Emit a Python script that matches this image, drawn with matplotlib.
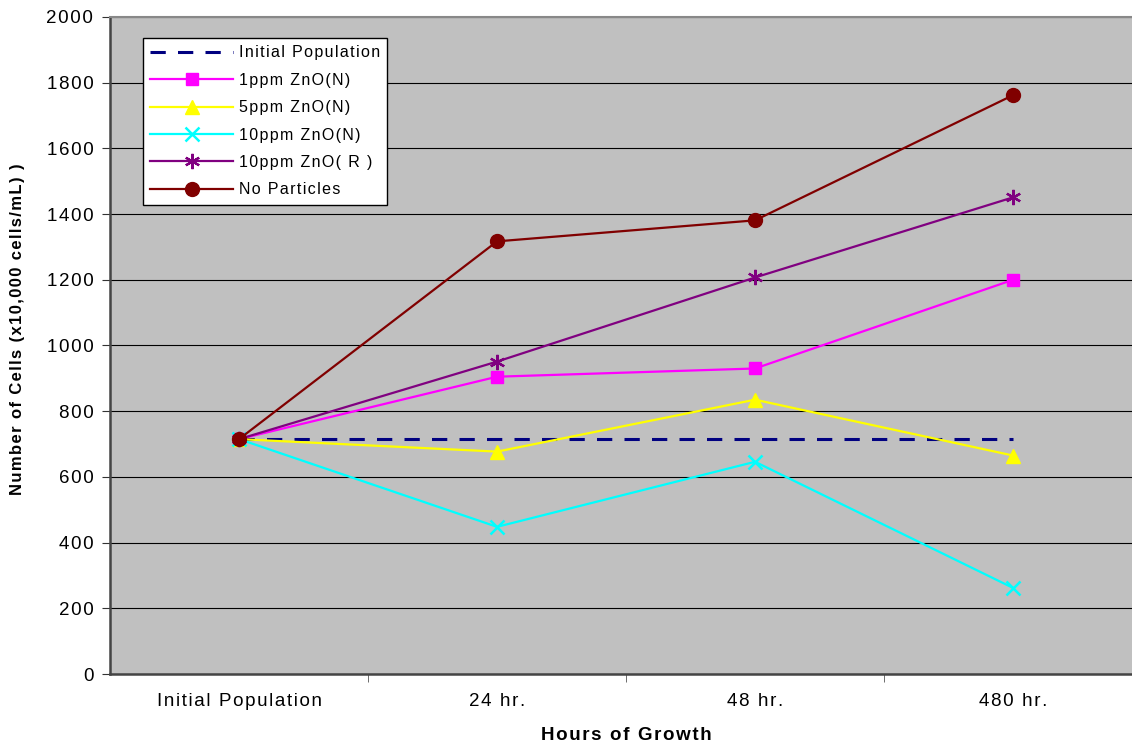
import matplotlib.pyplot as plt
import numpy as np

plt.rcParams['font.family'] = ['Liberation Sans', 'DejaVu Sans']

categories = ['Initial Population', '24 hr.', '48 hr.', '480 hr.']
initial_pop = [715, 715, 715, 715]
zno_1ppm_n = [715, 905, 930, 1200]
zno_5ppm_n = [715, 677, 835, 665]
zno_10ppm_n = [715, 448, 646, 262]
zno_10ppm_r = [715, 951, 1207, 1451]
no_particles = [715, 1317, 1381, 1762]


def spaced(s):
    # loose letter spacing via hair spaces between characters
    return '\u200a'.join(s)


fig = plt.figure(figsize=(11.32, 7.45), dpi=100)
ax = fig.add_axes([0.0972, 0.0953, 0.9117, 0.8819])
ax.set_facecolor('#C0C0C0')

x = np.arange(len(categories))

ax.plot(x, initial_pop, color='#000080', linestyle=(0, (5, 4)), linewidth=2.2,
        label=spaced('Initial Population'), zorder=3)
ax.plot(x, zno_1ppm_n, color='#FF00FF', marker='s', markersize=9, linewidth=1.6,
        label=spaced('1ppm ZnO(N)'), zorder=4)
ax.plot(x, zno_5ppm_n, color='#FFFF00', marker='^', markersize=10, linewidth=1.6,
        label=spaced('5ppm ZnO(N)'), zorder=4)
ax.plot(x, zno_10ppm_n, color='#00FFFF', marker='x', markersize=10, markeredgewidth=1.8,
        linewidth=1.6, label=spaced('10ppm ZnO(N)'), zorder=4)
ax.plot(x, zno_10ppm_r, color='#800080', marker=(6, 2, 0), markersize=11, markeredgewidth=1.6,
        linewidth=1.6, label=spaced('10ppm ZnO( R )'), zorder=4)
ax.plot(x, no_particles, color='#800000', marker='o', markersize=10, linewidth=1.6,
        label=spaced('No Particles'), zorder=5)

ax.set_xlim(-0.5, 3.5)
ax.set_ylim(0, 2000)
ax.set_yticks(range(0, 2001, 200))
ax.set_yticklabels([spaced(str(v)) for v in range(0, 2001, 200)])
ax.yaxis.grid(True, color='black', linewidth=0.8)
ax.set_axisbelow(True)

# category labels sit between the boundary ticks
ax.set_xticks(x)
ax.set_xticklabels([spaced(c) for c in categories], fontsize=13.5)
ax.tick_params(axis='x', length=0, pad=14)
ax.set_xticks([0.5, 1.5, 2.5], minor=True)
ax.tick_params(axis='x', which='minor', length=6, color='#555555', direction='out')
ax.tick_params(axis='y', labelsize=13.5, length=6, color='#333333', pad=6)

for side in ['left', 'bottom']:
    ax.spines[side].set_color('#444444')
    ax.spines[side].set_linewidth(1.8)
ax.spines['top'].set_color('#888888')
ax.spines['top'].set_linewidth(1.5)
ax.spines['right'].set_visible(False)

ax.set_xlabel(spaced('Hours of Growth'), fontsize=13.5, fontweight='bold', labelpad=12)
fig.text(18 / 1132, 1 - 329 / 745, spaced('Number of Cells (x10,000 cells/mL) )'),
         rotation=90, ha='center', va='center', fontsize=12, fontweight='bold')

leg = ax.legend(loc='upper left', bbox_to_anchor=(0.032, 0.968), borderaxespad=0,
                fontsize=11.5, frameon=True, fancybox=False, edgecolor='black',
                framealpha=1, handlelength=5.2, handletextpad=0.35, borderpad=0.45,
                labelspacing=0.78)
leg.get_frame().set_linewidth(1.0)

fig.savefig('out.png', dpi=100)
